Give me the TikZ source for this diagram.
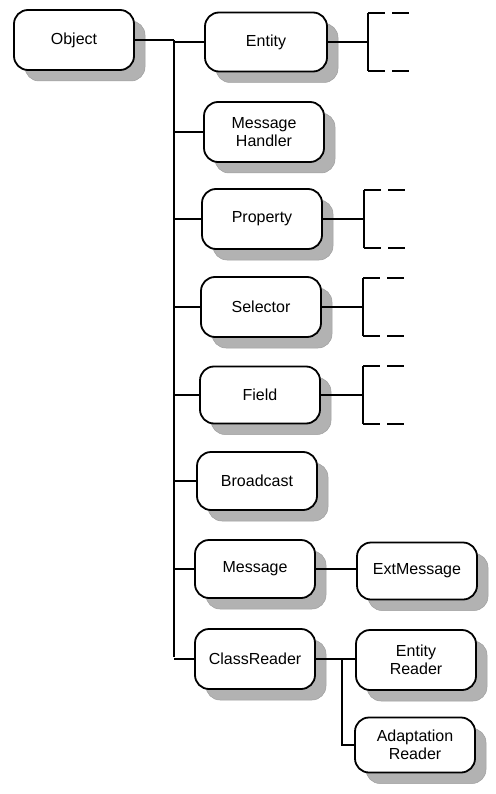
\documentclass[tikz,border=0pt]{standalone}
\usepackage{fontspec}
\setmainfont{Liberation Sans}
\usetikzlibrary{shadows,patterns}
\begin{document}
\begin{tikzpicture}[x=1pt,y=-1pt,
  cls/.style={draw=black, line width=1.8pt, rounded corners=14pt, fill=white,
    minimum width=120pt, minimum height=60pt, align=center, inner sep=2pt,
    font=\fontsize{16}{18}\selectfont,
    drop shadow={shadow xshift=11pt, shadow yshift=-11pt, fill=gray!60, opacity=1, draw=gray!75, line width=0.5pt}},
  link/.style={draw=black, line width=1.1pt},
  dashseg/.style={draw=black, line width=1.1pt}]
\useasboundingbox (0,0) rectangle (495,794);

% nodes
\node[cls] (obj) at (74,40) {Object};
\node[cls, minimum width=122pt, minimum height=59pt] (ent) at (266,42) {Entity};
\node[cls] (mh) at (264,132) {Message\\Handler};
\node[cls] (prop) at (262,219) {Property};
\node[cls] (sel) at (261,307) {Selector};
\node[cls, minimum height=57pt] (fld) at (260,395) {Field};
\node[cls, minimum height=58pt] (bc) at (257,481) {Broadcast};
\node[cls, minimum height=58pt] (msg) at (255,569) {Message};
\node[cls] (cr) at (255,659) {ClassReader};
\node[cls, minimum height=57pt] (ext) at (417,571) {ExtMessage};
\node[cls] (er) at (416,660) {Entity\\Reader};
\node[cls, minimum height=55pt] (ar) at (415,745) {Adaptation\\Reader};

% trunk
\coordinate (ttop) at (174,40);
\coordinate (tbot) at (174,657);
\draw[link] (obj.east) -- (ttop);
\draw[link] (ttop) -- (tbot);
\foreach \n in {ent,mh,prop,sel,fld,bc,msg,cr}
  \draw[link] (\n.west) -- (\n.west -| ttop);

% brackets
\foreach \n/\bx in {ent/368,prop/364,sel/363,fld/363}{
  \coordinate (\n-b) at (\bx,0);
  \coordinate (\n-m) at (\n.east -| \n-b);
  \draw[link] (\n.east) -- (\n-m);
  \draw[link] ([yshift=-29pt]\n-m) -- ([yshift=29pt]\n-m);
  \draw[dashseg] ([yshift=-29pt]\n-m) -- ++(17,0);
  \draw[dashseg] ([yshift=-29pt,xshift=24pt]\n-m) -- ++(17,0);
  \draw[dashseg] ([yshift=29pt]\n-m) -- ++(17,0);
  \draw[dashseg] ([yshift=29pt,xshift=24pt]\n-m) -- ++(17,0);
}

% message -> extmessage
\draw[link] (msg.east) -- (msg.east -| ext.west);

% classreader sub-trunk
\coordinate (stop) at (342,659);
\draw[link] (cr.east) -- (er.west |- cr.east);
\draw[link] (cr.east -| stop) -- (ar.west -| stop) -- (ar.west);
\end{tikzpicture}
\end{document}
